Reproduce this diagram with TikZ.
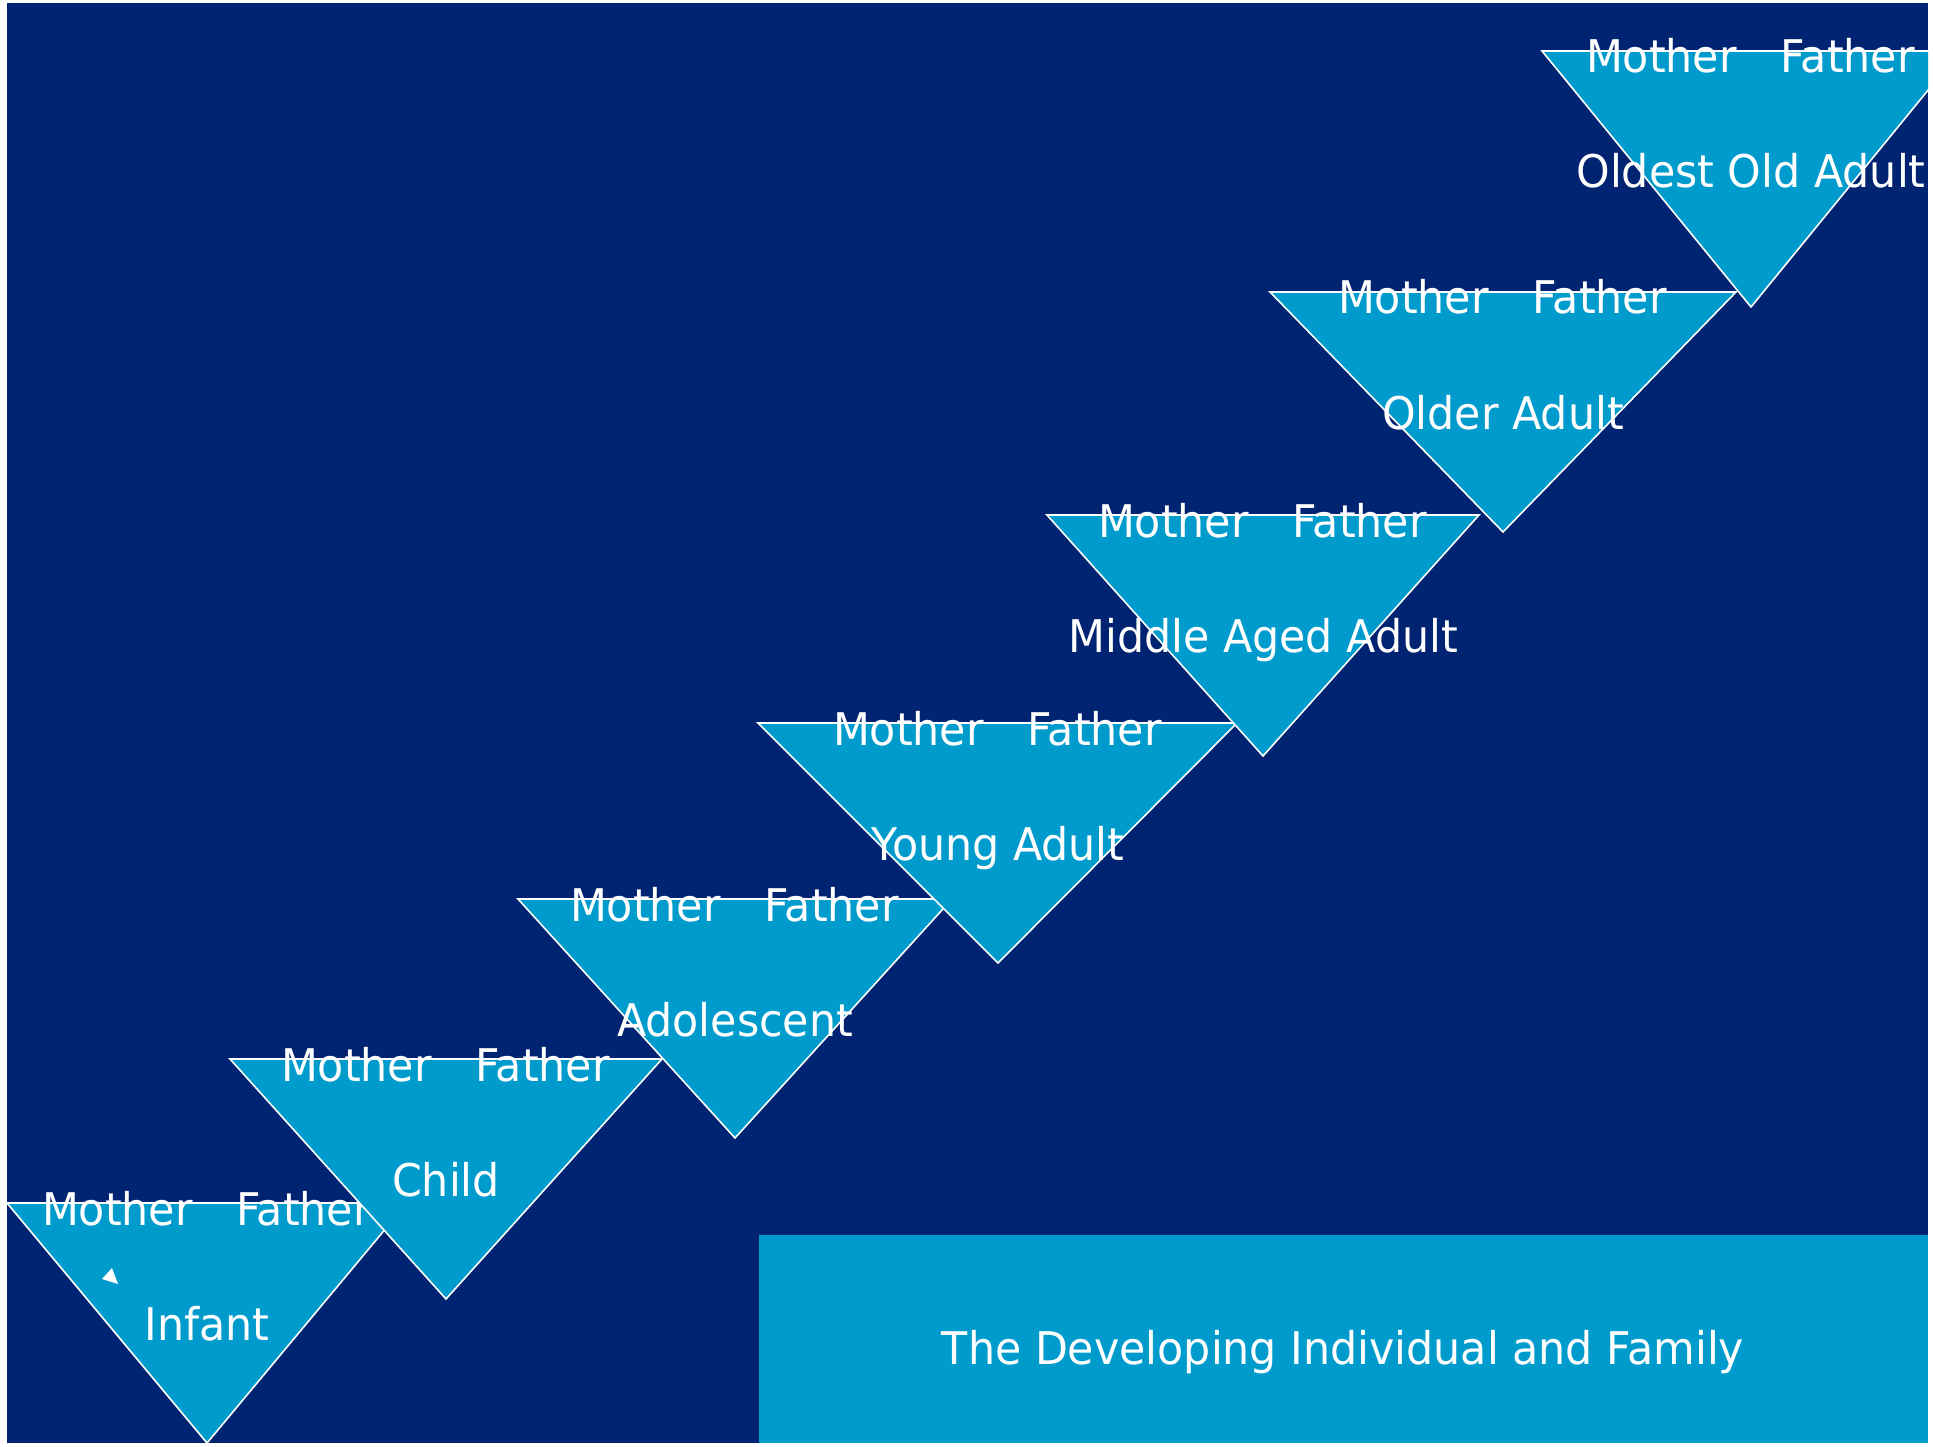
\documentclass[tikz,border=0pt]{standalone}
\usepackage{fontspec}
\setmainfont{DejaVu Sans}[FakeStretch=0.95]
\definecolor{navybg}{RGB}{0,35,114}
\definecolor{skyfill}{RGB}{0,155,205}
\tikzset{
  stagetri/.style={fill=skyfill, draw=white, line width=1.6pt, line join=miter},
  lbl/.style={text=white, font=\fontsize{45}{54}\selectfont, inner sep=0pt},
}
% #1 id, #2 left x, #3 right x, #4 apex x, #5 top y, #6 apex y, #7 stage name
\newcommand\lifestage[7]{%
  \path[stagetri] (#2,#5) -- (#4,#6) -- (#3,#5) -- cycle;
  \node[lbl, anchor=base east] (m#1) at ({#4-14},{#5+22}) {Mother};
  \node[lbl, anchor=base west] (f#1) at ({#4+29},{#5+22}) {Father};
  \node[lbl, anchor=base] (s#1) at (#4,{#5+137}) {#7};
}
\begin{document}
\begin{tikzpicture}[x=1pt,y=-1pt]
  \useasboundingbox (0,0) rectangle (1933,1447);
  \fill[white] (0,0) rectangle (1933,1447);
  \fill[navybg] (7,3) rectangle (1928,1443);
  \begin{scope}
    \clip (7,3) rectangle (1928,1443);
    \lifestage{1}{7}{407}{207}{1203}{1443}{Infant}
    \fill[white] (102,1279) -- (112,1268) -- (118,1284) -- cycle;
    \lifestage{2}{230}{662}{446}{1059}{1299}{Child}
    \lifestage{3}{518}{952}{735}{899}{1138}{Adolescent}
    \lifestage{4}{758}{1237}{998}{723}{963}{Young Adult}
    \lifestage{5}{1047}{1479}{1263}{515}{756}{Middle Aged Adult}
    \lifestage{6}{1270}{1736}{1503}{292}{532}{Older Adult}
    \lifestage{7}{1542}{1960}{1751}{51}{307}{Oldest Old Adult}
  \end{scope}
  \fill[skyfill] (759,1235) rectangle (1928,1443);
  \node[lbl, anchor=base] (title) at (1343,1364) {The Developing Individual and Family};
\end{tikzpicture}
\end{document}
